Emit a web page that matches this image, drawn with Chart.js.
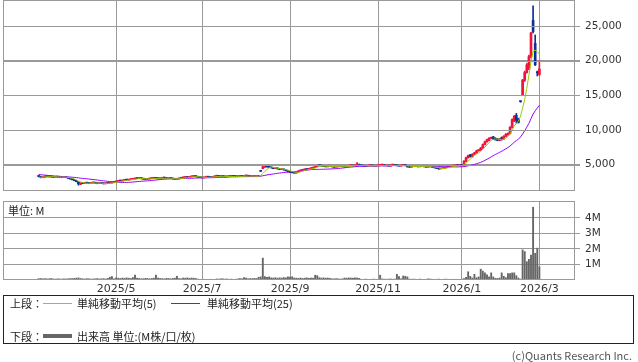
<!DOCTYPE html>
<html>
<head>
<meta charset="utf-8">
<script src="https://cdn.jsdelivr.net/npm/chart.js@4.4.1/dist/chart.umd.min.js"></script>
<style>
  body { margin: 0; width: 638px; height: 362px; background: #fff; position: relative; overflow: hidden; font-family: "Noto Sans CJK JP", sans-serif; color: #222; }
  canvas { position: absolute; left: 0; }
  #price { top: 0; }
  #vol { top: 200px; }
  .t { position: absolute; font-size: 11px; line-height: 13px; white-space: nowrap; }
  .box { position: absolute; left: 3px; top: 295px; width: 629px; height: 47px; border: 1px solid #222; }
  .ln { position: absolute; left: 43px; width: 29px; }
</style>
</head>
<body>
<canvas id="price" width="638" height="191"></canvas>
<canvas id="vol" width="638" height="96"></canvas>
<div class="t" style="left:8px;top:204px">単位: M</div>
<div class="box"></div>
<div class="t" style="left:10px;top:297px">上段：</div>
<div class="ln" style="top:303px;height:1px;background:#99cc00"></div>
<div class="t" style="left:77px;top:297px">単純移動平均(5)</div>
<div class="ln" style="left:171px;top:303px;height:1px;background:#9900ff"></div>
<div class="t" style="left:207px;top:297px">単純移動平均(25)</div>
<div class="t" style="left:10px;top:330px">下段：</div>
<div class="ln" style="top:334px;height:4px;background:#666"></div>
<div class="t" style="left:77px;top:330px">出来高 単位:(M株/口/枚)</div>
<div class="t" style="right:6px;top:349px;color:#555">(c)Quants Research Inc.</div>
<script>
// trading-day index of the first day of each labelled month
const tickIdx = [37, 78, 120, 162, 202, 239];
const tickLabels = ['2025/5', '2025/7', '2025/9', '2025/11', '2026/1', '2026/3'];
const priceTicks = [5000, 10000, 15000, 20000, 25000];
const volTicks = [1, 2, 3, 4];

// closes before the first visible day (only used to start the moving averages)
const priorClose = [4100, 4050, 4000, 4050, 3980, 3950, 4000, 3950, 3900, 3920,
  3600, 3550, 3500, 3450, 3400, 3380, 3350, 3300, 3320, 3250,
  3150, 3100, 3180, 3200];

const open = [
  3350, 3300, 3150, 3200, 3350, 3250, 3320, 3250, 3200, 3280,
  3250, 3200, 3180, 3250, 3150, 3050, 2950, 2850, 2700, 2500,
  2150, 2350, 2300, 2400, 2350, 2300, 2380, 2420, 2350, 2280,
  2320, 2300, 2250, 2350, 2300, 2380, 2450, 2520, 2600, 2700,
  2650, 2750, 2820, 2780, 2850, 2900, 2950, 3050, 3000, 3100,
  2980, 2920, 2880, 2950, 3000, 3050, 3100, 3020, 2980, 3050,
  3100, 3080, 3000, 3050, 3020, 2950, 2900, 2950, 3050, 3100,
  3150, 3200, 3150, 3250, 3300, 3350, 3280, 3200, 3150, 3100,
  3200, 3250, 3200, 3150, 3250, 3350, 3400, 3300, 3350, 3300,
  3250, 3300, 3320, 3350, 3300, 3280, 3320, 3350, 3300, 3380,
  3400, 3350, 3300, 3350, 3280, 3320, 4060, 4450, 4650, 4820,
  4750, 4600, 4550, 4450, 4500, 4400, 4300, 4350, 4250, 4150,
  4000, 3900, 3850, 3800, 3950, 4100, 4200, 4250, 4350, 4300,
  4450, 4500, 4600, 4750, 4900, 4850, 4800, 4750, 4700, 4780,
  4820, 4700, 4650, 4700, 4750, 4800, 4720, 4680, 4750, 4850,
  4900, 4800, 4950, 5050, 4900, 4850, 4800, 4780, 4850, 4900,
  4820, 4800, 4850, 4900, 4950, 5000, 4850, 4900, 4800, 4950,
  5000, 4900, 4850, 4800, 4900, 4950, 4850, 4700, 4650, 4750,
  4750, 4800, 4700, 4750, 4800, 4700, 4650, 4700, 4750, 4600,
  4550, 4450, 4400, 4450, 4500, 4600, 4700, 4750, 4800, 4850,
  4900, 4850, 4950, 4950, 5500, 6000, 6400, 6150, 6500, 6700,
  7000, 7100, 7400, 7900, 8300, 8500, 8800, 9000, 8800, 8700,
  8500, 8900, 8700, 9100, 9300, 9500, 10400, 11300, 12100, 11600,
  14150, 15000, 17200, 18300, 18800, 20600, 25800, 22500, 18400, 18000
];
const high = [
  3400, 3350, 3250, 3400, 3380, 3350, 3350, 3280, 3320, 3300,
  3280, 3250, 3280, 3270, 3180, 3080, 2980, 2880, 2720, 2520,
  2400, 2400, 2450, 2420, 2380, 2420, 2450, 2450, 2380, 2350,
  2360, 2320, 2380, 2380, 2400, 2480, 2550, 2650, 2700, 2720,
  2780, 2830, 2850, 2880, 2930, 2980, 3080, 3080, 3150, 3120,
  3000, 2950, 2980, 3030, 3080, 3130, 3150, 3050, 3080, 3130,
  3150, 3100, 3080, 3080, 3050, 2980, 2980, 3080, 3130, 3180,
  3230, 3230, 3280, 3330, 3380, 3380, 3300, 3230, 3180, 3230,
  3280, 3280, 3230, 3280, 3380, 3450, 3420, 3380, 3380, 3320,
  3330, 3350, 3380, 3380, 3320, 3350, 3380, 3380, 3420, 3450,
  3420, 3380, 3380, 3380, 3350, 3380, 4080, 4800, 4880, 4850,
  4780, 4650, 4600, 4550, 4530, 4450, 4400, 4380, 4280, 4180,
  4050, 3950, 3900, 3980, 4150, 4250, 4300, 4400, 4400, 4480,
  4550, 4650, 4800, 4950, 4950, 4900, 4850, 4780, 4820, 4870,
  4850, 4750, 4750, 4800, 4850, 4830, 4770, 4800, 4900, 4950,
  4950, 5000, 5290, 5100, 4950, 4900, 4850, 4880, 4950, 4950,
  4880, 4880, 4950, 5000, 5050, 5050, 4950, 4950, 5000, 5050,
  5050, 4950, 4900, 4950, 5000, 4980, 4880, 4750, 4800, 4800,
  4850, 4820, 4800, 4850, 4850, 4750, 4750, 4800, 4780, 4650,
  4600, 4500, 4500, 4550, 4650, 4750, 4800, 4850, 4900, 4950,
  4950, 5000, 4980, 5600, 6100, 6400, 6500, 6600, 6800, 7100,
  7200, 7500, 8000, 8400, 8700, 8900, 9000, 9100, 8900, 8800,
  8800, 9000, 9200, 9500, 9600, 10500, 11600, 12100, 12400, 11700,
  14200, 17300, 18500, 19600, 20800, 24100, 27900, 23700, 18500, 20000
];
const low = [
  3250, 3100, 3120, 3150, 3230, 3220, 3200, 3150, 3180, 3180,
  3150, 3120, 3150, 3120, 3020, 2920, 2820, 2680, 2530, 2050,
  2120, 2270, 2280, 2320, 2280, 2280, 2350, 2320, 2250, 2260,
  2270, 2220, 2230, 2280, 2280, 2350, 2430, 2500, 2580, 2620,
  2620, 2720, 2760, 2760, 2830, 2880, 2920, 2970, 2980, 2950,
  2900, 2850, 2860, 2920, 2980, 3020, 3000, 2960, 2950, 3020,
  3050, 2980, 2980, 3000, 2930, 2880, 2880, 2930, 3030, 3080,
  3130, 3130, 3130, 3230, 3280, 3260, 3180, 3130, 3080, 3080,
  3180, 3180, 3130, 3130, 3230, 3330, 3280, 3280, 3280, 3230,
  3230, 3280, 3300, 3280, 3260, 3260, 3300, 3280, 3280, 3360,
  3330, 3280, 3280, 3260, 3260, 3300, 4040, 4400, 4600, 4650,
  4580, 4520, 4420, 4430, 4380, 4280, 4280, 4230, 4120, 3950,
  3850, 3800, 3760, 3780, 3920, 4080, 4180, 4220, 4270, 4280,
  4420, 4480, 4580, 4720, 4820, 4780, 4720, 4680, 4680, 4750,
  4680, 4620, 4630, 4680, 4720, 4700, 4650, 4660, 4720, 4820,
  4780, 4780, 4920, 4880, 4820, 4780, 4750, 4760, 4820, 4800,
  4780, 4780, 4830, 4880, 4920, 4830, 4830, 4780, 4780, 4920,
  4880, 4830, 4780, 4780, 4880, 4830, 4650, 4600, 4630, 4700,
  4730, 4680, 4680, 4730, 4680, 4620, 4630, 4680, 4580, 4530,
  4430, 4330, 4380, 4430, 4480, 4580, 4680, 4730, 4780, 4830,
  4830, 4830, 4880, 4930, 5450, 5950, 6100, 6100, 6450, 6650,
  6950, 7050, 7350, 7850, 8250, 8450, 8750, 8650, 8550, 8450,
  8450, 8550, 8650, 9050, 9250, 9450, 10300, 11200, 11000, 11000,
  14000, 15000, 17000, 18200, 18700, 20400, 24000, 19300, 17800, 17900
];
const close = [
  3300, 3150, 3200, 3350, 3280, 3300, 3250, 3200, 3280, 3220,
  3200, 3180, 3240, 3150, 3050, 2950, 2850, 2700, 2550, 2250,
  2350, 2300, 2400, 2350, 2300, 2380, 2420, 2350, 2280, 2320,
  2300, 2250, 2350, 2300, 2380, 2450, 2520, 2600, 2680, 2650,
  2750, 2800, 2780, 2850, 2900, 2950, 3050, 3000, 3100, 2980,
  2920, 2880, 2950, 3000, 3050, 3100, 3020, 2980, 3050, 3100,
  3080, 3000, 3050, 3020, 2950, 2900, 2950, 3050, 3100, 3150,
  3200, 3150, 3250, 3300, 3350, 3280, 3200, 3150, 3100, 3200,
  3250, 3200, 3150, 3250, 3350, 3400, 3300, 3350, 3300, 3250,
  3300, 3320, 3350, 3300, 3280, 3320, 3350, 3300, 3380, 3400,
  3350, 3300, 3350, 3280, 3320, 3350, 4040, 4700, 4800, 4700,
  4600, 4550, 4450, 4500, 4400, 4300, 4350, 4250, 4150, 4000,
  3900, 3850, 3800, 3950, 4100, 4200, 4250, 4350, 4300, 4450,
  4500, 4600, 4750, 4900, 4850, 4800, 4750, 4700, 4780, 4820,
  4700, 4650, 4700, 4750, 4800, 4720, 4680, 4750, 4850, 4900,
  4800, 4950, 5050, 4900, 4850, 4800, 4780, 4850, 4900, 4820,
  4800, 4850, 4900, 4950, 5000, 4850, 4900, 4800, 4950, 5000,
  4900, 4850, 4800, 4900, 4950, 4850, 4700, 4650, 4750, 4750,
  4800, 4700, 4750, 4800, 4700, 4650, 4700, 4750, 4600, 4550,
  4450, 4400, 4450, 4500, 4600, 4700, 4750, 4800, 4850, 4900,
  4850, 4950, 4900, 5500, 6000, 6300, 6150, 6500, 6700, 7000,
  7100, 7400, 7900, 8300, 8600, 8800, 8900, 8700, 8600, 8500,
  8700, 8600, 9100, 9400, 9500, 10400, 11500, 12000, 11400, 11100,
  14100, 17200, 18300, 19400, 20600, 24000, 24200, 19400, 18250, 18800
];
// volume in millions
const volume = [
  0.11, 0.12, 0.10, 0.11, 0.09, 0.10, 0.12, 0.09, 0.08, 0.10,
  0.09, 0.08, 0.10, 0.09, 0.10, 0.12, 0.11, 0.13, 0.14, 0.16,
  0.12, 0.10, 0.09, 0.11, 0.10, 0.08, 0.09, 0.10, 0.12, 0.09,
  0.10, 0.11, 0.09, 0.13, 0.20, 0.24, 0.10, 0.16, 0.14, 0.12,
  0.15, 0.13, 0.16, 0.14, 0.12, 0.18, 0.33, 0.14, 0.12, 0.10,
  0.11, 0.13, 0.12, 0.10, 0.12, 0.14, 0.33, 0.15, 0.12, 0.11,
  0.10, 0.13, 0.12, 0.10, 0.12, 0.14, 0.26, 0.12, 0.10, 0.15,
  0.14, 0.16, 0.13, 0.15, 0.14, 0.12, 0.08, 0.06, 0.05, 0.07,
  0.06, 0.05, 0.07, 0.06, 0.05, 0.09, 0.08, 0.10, 0.09, 0.08,
  0.09, 0.07, 0.08, 0.06, 0.07, 0.09, 0.12, 0.10, 0.17, 0.15,
  0.10, 0.12, 0.11, 0.13, 0.12, 0.20, 0.22, 1.43, 0.24, 0.20,
  0.22, 0.16, 0.15, 0.17, 0.14, 0.16, 0.15, 0.18, 0.16, 0.22,
  0.21, 0.23, 0.15, 0.14, 0.13, 0.15, 0.12, 0.14, 0.16, 0.13,
  0.15, 0.14, 0.33, 0.30, 0.17, 0.15, 0.16, 0.14, 0.15, 0.13,
  0.10, 0.09, 0.11, 0.10, 0.08, 0.10, 0.15, 0.14, 0.16, 0.15,
  0.14, 0.16, 0.15, 0.13, 0.07, 0.06, 0.08, 0.07, 0.06, 0.07,
  0.08, 0.06, 0.07, 0.33, 0.09, 0.08, 0.07, 0.08, 0.09, 0.07,
  0.08, 0.39, 0.24, 0.10, 0.28, 0.26, 0.22, 0.08, 0.07, 0.08,
  0.07, 0.06, 0.08, 0.07, 0.06, 0.07, 0.10, 0.08, 0.07, 0.06,
  0.07, 0.08, 0.06, 0.07, 0.08, 0.07, 0.06, 0.05, 0.07, 0.06,
  0.05, 0.06, 0.07, 0.12, 0.20, 0.55, 0.26, 0.15, 0.39, 0.17,
  0.22, 0.72, 0.60, 0.48, 0.35, 0.22, 0.48, 0.22, 0.13, 0.12,
  0.15, 0.48, 0.26, 0.17, 0.43, 0.43, 0.48, 0.48, 0.30, 0.15,
  0.08, 1.96, 1.85, 1.20, 1.35, 1.63, 4.70, 1.74, 2.07, 0.87
];

const xMin = -17, xMax = 256;
const pMin = 1210, pMax = 28750;
const gridColor = '#999';

Chart.defaults.animation = false;
Chart.defaults.font.family = 'DejaVu Sans';
Chart.defaults.font.size = 10.5;
Chart.defaults.color = '#333';

function sma(n) {
  const all = priorClose.concat(close);
  const off = priorClose.length;
  return close.map((c, i) => {
    let s = 0;
    for (let k = 0; k < n; k++) s += all[off + i - k];
    return { x: i, y: s / n };
  });
}

const candleColor = close.map((c, i) => c >= open[i] ? '#f0143c' : '#0a3296');

// box round the plot area; for the price panel also the level lines
// (with the short tick past the right edge), drawn last so nothing hides them
function frame(levels, min, max) {
  return {
    id: 'frame',
    afterDraw(chart) {
      const { ctx, chartArea: a } = chart;
      ctx.save();
      ctx.strokeStyle = gridColor;
      ctx.lineWidth = 1;
      if (levels) {
        ctx.beginPath();
        levels.forEach(v => {
          const y = Math.round(a.bottom - (v - min) / (max - min) * (a.bottom - a.top)) + 0.5;
          ctx.moveTo(a.left, y);
          ctx.lineTo(a.right + 5, y);
        });
        ctx.stroke();
      }
      ctx.strokeRect(a.left + 0.5, a.top + 0.5, a.right - a.left - 1, a.bottom - a.top - 1);
      ctx.restore();
    }
  };
}

// no extra room for labels that hang over the ends of an axis
function noPad(s) {
  s.paddingTop = 0; s.paddingBottom = 0; s.paddingLeft = 0; s.paddingRight = 0;
}

function xScale(showLabels) {
  return {
    type: 'linear', min: xMin, max: xMax, offset: false,
    grid: { color: gridColor, lineWidth: 1, drawTicks: false, offset: false },
    border: { display: false },
    afterBuildTicks: s => { s.ticks = tickIdx.map(v => ({ value: v })); },
    ticks: {
      display: showLabels, autoSkip: false, maxRotation: 0, padding: 3,
      font: { size: 11 },
      callback: v => tickLabels[tickIdx.indexOf(v)]
    },
    afterFit: s => { noPad(s); s.height = showLabels ? 16 : 0; }
  };
}

function yScale(min, max, vals, fmt) {
  return {
    position: 'right', min: min, max: max,
    grid: { color: gridColor, lineWidth: 1, tickLength: 5 },
    border: { display: false },
    afterBuildTicks: s => { s.ticks = vals.map(v => ({ value: v })); },
    ticks: { padding: 5, callback: fmt },
    afterFit: s => { noPad(s); s.width = 63; }
  };
}

new Chart(document.getElementById('price'), {
  type: 'bar',
  data: {
    datasets: [
      { type: 'line', data: sma(5), borderColor: '#99cc00', borderWidth: 1, pointRadius: 0 },
      { type: 'line', data: sma(25), borderColor: '#9900ff', borderWidth: 1, pointRadius: 0 },
      { data: close.map((c, i) => ({ x: i, y: [open[i], c] })), backgroundColor: candleColor,
        barThickness: 2, grouped: false, minBarLength: 1 },
      { data: close.map((c, i) => ({ x: i, y: [low[i], high[i]] })), backgroundColor: candleColor,
        barThickness: 1, grouped: false, minBarLength: 1 }
    ]
  },
  options: {
    responsive: false,
    layout: { padding: { left: 3, top: 0, right: 0, bottom: 0 } },
    plugins: { legend: { display: false }, tooltip: { enabled: false } },
    scales: {
      x: xScale(false),
      y: yScale(pMin, pMax, priceTicks, v => v.toLocaleString('en-US'))
    }
  },
  plugins: [frame(priceTicks, pMin, pMax)]
});

new Chart(document.getElementById('vol'), {
  type: 'bar',
  data: {
    datasets: [
      { data: volume.map((v, i) => ({ x: i, y: v })), backgroundColor: '#666',
        barPercentage: 1, categoryPercentage: 0.9 }
    ]
  },
  options: {
    responsive: false,
    layout: { padding: { left: 3, top: 1, right: 0, bottom: 0 } },
    plugins: { legend: { display: false }, tooltip: { enabled: false } },
    scales: {
      x: xScale(true),
      y: yScale(0, 5.08, volTicks, v => v + 'M')
    }
  },
  plugins: [frame(null)]
});
</script>
</body>
</html>
